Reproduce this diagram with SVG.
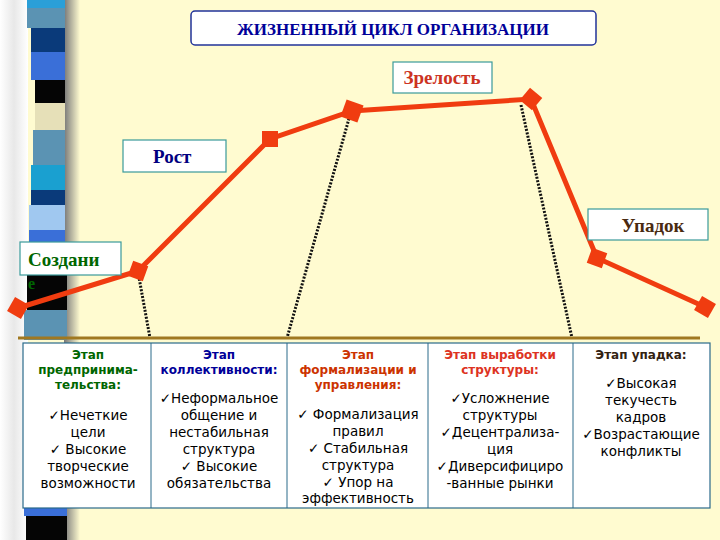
<svg xmlns="http://www.w3.org/2000/svg" width="720" height="540" viewBox="0 0 720 540">
<defs>
<linearGradient id="sh" x1="0" x2="1"><stop offset="0" stop-color="#fff"/><stop offset="0.5" stop-color="#e8e8e8"/><stop offset="1" stop-color="#fff"/></linearGradient>
<linearGradient id="sh2" x1="0" x2="1"><stop offset="0" stop-color="#777"/><stop offset="1" stop-color="#fffbd0"/></linearGradient>
<style>
.lbl{fill:#fff;stroke:#3a9a9a;stroke-width:1.2}
.lt{font-family:"Liberation Serif","DejaVu Serif",serif;font-weight:bold;font-size:19px}
.h{font-family:"DejaVu Sans",sans-serif;font-weight:bold;font-size:12px;text-anchor:middle}
.b{font-family:"DejaVu Sans",sans-serif;font-size:13.5px;text-anchor:middle;fill:#000}
.dot{stroke:#111;stroke-width:3;stroke-dasharray:2 1.5;fill:none}
.pt{fill:#f03c10}
</style>
</defs>
<rect width="720" height="540" fill="#fffbd0"/>
<rect x="0" y="0" width="28" height="540" fill="url(#sh)"/>
<rect x="64" y="0" width="16" height="540" fill="url(#sh2)"/>
<g id="strip">
<rect x="27" y="0" width="38" height="8" fill="#2a9fd8"/>
<rect x="27" y="8" width="38" height="20" fill="#5b93b3"/>
<rect x="31" y="28" width="34" height="24" fill="#0a3a7a"/>
<rect x="31" y="52" width="34" height="28" fill="#3a6fd8"/>
<rect x="35" y="80" width="30" height="23" fill="#050505"/>
<rect x="35" y="103" width="30" height="27" fill="#e6e0b8"/>
<rect x="33" y="130" width="32" height="35" fill="#5b93b3"/>
<rect x="31" y="165" width="34" height="25" fill="#1aa0d0"/>
<rect x="31" y="190" width="34" height="15" fill="#0a3a7a"/>
<rect x="29" y="205" width="36" height="25" fill="#a0c8f0"/>
<rect x="29" y="230" width="36" height="15" fill="#3a6fd8"/>
<rect x="27" y="275" width="40" height="35" fill="#050505"/>
<rect x="24" y="310" width="43" height="30" fill="#5b93b3"/>
<rect x="24" y="508" width="43" height="8" fill="#3a6fd8"/>
<rect x="26" y="516" width="41" height="24" fill="#050505"/>
</g>
<g id="title">
<rect x="191" y="11" width="405" height="34" rx="4" fill="#fff" stroke="#223399" stroke-width="1.5"/>
<text x="393" y="35" text-anchor="middle" class="lt" style="font-size:17px" fill="#000099">ЖИЗНЕННЫЙ ЦИКЛ ОРГАНИЗАЦИИ</text>
</g>
<g id="connectors">
<polyline points="18,308 138,271 270,139 352,111 531,99 597,258 705,307" fill="none" stroke="#f03c10" stroke-width="5"/>
<line x1="138" y1="272" x2="150" y2="338" class="dot"/>
<line x1="350" y1="115" x2="287" y2="338" class="dot"/>
<line x1="521" y1="105" x2="572" y2="338" class="dot"/>
<line x1="18" y1="338" x2="700" y2="338" stroke="#a07820" stroke-width="3"/>
</g>
<g id="points">
<rect x="10" y="300" width="16" height="16" class="pt" transform="rotate(30 18 308)"/>
<rect x="130" y="263" width="16" height="16" class="pt" transform="rotate(20 138 271)"/>
<rect x="262" y="131" width="16" height="16" class="pt"/>
<rect x="343" y="102" width="18" height="18" class="pt" transform="rotate(20 352 111)"/>
<rect x="523" y="91" width="16" height="16" class="pt" transform="rotate(40 531 99)"/>
<rect x="589" y="250" width="16" height="16" class="pt" transform="rotate(20 597 258)"/>
<rect x="697" y="299" width="16" height="16" class="pt" transform="rotate(30 705 307)"/>
</g>
<g id="n-sozd"><rect x="20" y="242" width="101" height="33" class="lbl"/><text x="28" y="266" class="lt" fill="#006600">Создани</text><text x="28" y="289" class="lt" fill="#006600" style="font-size:16px">е</text></g>
<g id="n-rost"><rect x="123" y="140" width="103" height="32" class="lbl"/><text x="153" y="163" class="lt" fill="#000080">Рост</text></g>
<g id="n-zrel"><rect x="393" y="62" width="99" height="31" class="lbl"/><text x="442" y="84" text-anchor="middle" class="lt" fill="#cc3322">Зрелость</text></g>
<g id="n-upad"><rect x="588" y="209" width="120" height="31" class="lbl"/><text x="653" y="232" text-anchor="middle" class="lt" fill="#4a2a10">Упадок</text></g>
<g id="table">
<rect x="23" y="343" width="687" height="165" fill="#fff" stroke="#2a6a8a" stroke-width="1.2"/>
<line x1="151" y1="343" x2="151" y2="508" stroke="#2a6a8a"/>
<line x1="287" y1="343" x2="287" y2="508" stroke="#2a6a8a"/>
<line x1="428" y1="343" x2="428" y2="508" stroke="#2a6a8a"/>
<line x1="573" y1="343" x2="573" y2="508" stroke="#2a6a8a"/>
</g>
<g id="c1"><text class="h" fill="#006600"><tspan x="88" y="359">Этап</tspan><tspan x="88" y="374">предпринима-</tspan><tspan x="88" y="389">тельства:</tspan></text>
<text class="b"><tspan x="88" y="420">✓Нечеткие</tspan><tspan x="88" y="437">цели</tspan><tspan x="88" y="454">✓ Высокие</tspan><tspan x="88" y="471">творческие</tspan><tspan x="88" y="488">возможности</tspan></text></g>
<g id="c2"><text class="h" fill="#000099"><tspan x="219" y="359">Этап</tspan><tspan x="219" y="374">коллективности:</tspan></text>
<text class="b"><tspan x="219" y="403">✓Неформальное</tspan><tspan x="219" y="420">общение и</tspan><tspan x="219" y="437">нестабильная</tspan><tspan x="219" y="454">структура</tspan><tspan x="219" y="471">✓ Высокие</tspan><tspan x="219" y="488">обязательства</tspan></text></g>
<g id="c3"><text class="h" fill="#cc3300"><tspan x="358" y="359">Этап</tspan><tspan x="358" y="374">формализации и</tspan><tspan x="358" y="389">управления:</tspan></text>
<text class="b"><tspan x="358" y="419">✓ Формализация</tspan><tspan x="358" y="436">правил</tspan><tspan x="358" y="453">✓ Стабильная</tspan><tspan x="358" y="470">структура</tspan><tspan x="358" y="487">✓ Упор на</tspan><tspan x="358" y="503">эффективность</tspan></text></g>
<g id="c4"><text class="h" fill="#dd3322"><tspan x="500" y="359">Этап выработки</tspan><tspan x="500" y="374">структуры:</tspan></text>
<text class="b"><tspan x="500" y="403">✓Усложнение</tspan><tspan x="500" y="420">структуры</tspan><tspan x="500" y="437">✓Децентрализа-</tspan><tspan x="500" y="454">ция</tspan><tspan x="500" y="471">✓Диверсифициро</tspan><tspan x="500" y="488">-ванные рынки</tspan></text></g>
<g id="c5"><text class="h" fill="#332211"><tspan x="641" y="359">Этап упадка:</tspan></text>
<text class="b"><tspan x="641" y="388">✓Высокая</tspan><tspan x="641" y="405">текучесть</tspan><tspan x="641" y="422">кадров</tspan><tspan x="641" y="439">✓Возрастающие</tspan><tspan x="641" y="456">конфликты</tspan></text></g>
</svg>
